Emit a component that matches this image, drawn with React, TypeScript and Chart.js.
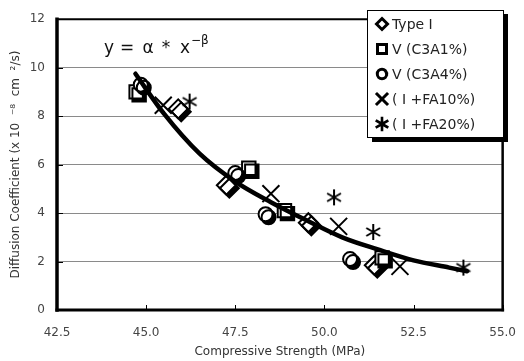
import { useEffect, useRef } from "react";
import { Chart, registerables } from "chart.js";
Chart.register(...registerables);

const typeIX = [45.9, 47.25, 49.55, 51.4];
const typeIY = [8.3, 5.15, 3.6, 1.85];
const c3a1X = [44.72, 47.88, 48.88, 51.62];
const c3a1Y = [9.0, 5.85, 4.1, 2.15];
const c3a4X = [44.85, 47.5, 48.35, 50.72];
const c3a4Y = [9.3, 5.65, 3.95, 2.1];
const fa10X = [45.48, 48.5, 50.4, 52.12];
const fa10Y = [8.45, 4.8, 3.45, 1.8];
const fa20X = [46.22, 50.27, 51.37, 53.9];
const fa20Y = [8.6, 4.65, 3.22, 1.75];
const fitX = [44.7, 45.5, 46.5, 47.5, 48.5, 49.5, 50.5, 51.5, 52.5, 53.5, 54.0];
const fitY = [9.75, 8.1, 6.45, 5.3, 4.45, 3.7, 3.0, 2.5, 2.05, 1.75, 1.6];
const xTicks = [42.5, 45.0, 47.5, 50.0, 52.5, 55.0];
const yTicks = [0, 2, 4, 6, 8, 10, 12];
const seriesLabels = ["Type I", "V (C3A1%)", "V (C3A4%)", "( I +FA10%)", "( I +FA20%)"];
const legendStyles = ["diamond", "square", "circle", "cross", "asterisk"];

const FONT = "'DejaVu Sans', sans-serif";

const zip = (xs: number[], ys: number[]) => xs.map((x, i) => ({ x, y: ys[i] }));

function drawAsterisk(ctx: CanvasRenderingContext2D, cx: number, cy: number, r: number) {
  ctx.beginPath();
  for (const a of [90, 30, 150]) {
    const rad = (a * Math.PI) / 180;
    const dx = Math.cos(rad) * r;
    const dy = Math.sin(rad) * r;
    ctx.moveTo(cx - dx, cy - dy);
    ctx.lineTo(cx + dx, cy + dy);
  }
  ctx.stroke();
}

function makeAsteriskImage(size: number, lw: number) {
  const c = document.createElement("canvas");
  c.width = size;
  c.height = size;
  const ctx = c.getContext("2d")!;
  ctx.strokeStyle = "#000";
  ctx.lineWidth = lw;
  drawAsterisk(ctx, size / 2, size / 2, size / 2 - 1);
  return c;
}

function drawSymbol(ctx: CanvasRenderingContext2D, kind: string, x: number, y: number) {
  ctx.save();
  ctx.strokeStyle = "#000";
  ctx.fillStyle = "#fff";
  ctx.lineWidth = 3;
  ctx.beginPath();
  if (kind === "diamond") {
    const r = 5.5;
    ctx.moveTo(x, y - r);
    ctx.lineTo(x + r, y);
    ctx.lineTo(x, y + r);
    ctx.lineTo(x - r, y);
    ctx.closePath();
    ctx.fill();
    ctx.stroke();
  } else if (kind === "square") {
    ctx.rect(x - 4.5, y - 4.5, 9, 9);
    ctx.fill();
    ctx.stroke();
  } else if (kind === "circle") {
    ctx.arc(x, y, 4.7, 0, Math.PI * 2);
    ctx.fill();
    ctx.stroke();
  } else if (kind === "cross") {
    const r = 5;
    ctx.moveTo(x - r, y - r);
    ctx.lineTo(x + r, y + r);
    ctx.moveTo(x + r, y - r);
    ctx.lineTo(x - r, y + r);
    ctx.stroke();
  } else {
    ctx.lineWidth = 2.6;
    drawAsterisk(ctx, x, y, 6);
  }
  ctx.restore();
}

const shadowPlugin = {
  id: "markerShadow",
  beforeDatasetDraw(chart: any, args: any) {
    const ds = chart.data.datasets[args.index];
    if (ds.shadow) {
      const ctx = chart.ctx;
      ctx.save();
      ctx.shadowColor = "#000";
      ctx.shadowOffsetX = 3;
      ctx.shadowOffsetY = 3;
      ctx.shadowBlur = 0;
    }
  },
  afterDatasetDraw(chart: any, args: any) {
    const ds = chart.data.datasets[args.index];
    if (ds.shadow) chart.ctx.restore();
  },
};

const decorPlugin = {
  id: "decor",
  afterDraw(chart: any) {
    const ctx: CanvasRenderingContext2D = chart.ctx;
    const { left, right, top, bottom } = chart.chartArea;
    const xs = chart.scales.x;
    const ys = chart.scales.y;
    ctx.save();
    // inner tick marks
    ctx.strokeStyle = "#000";
    ctx.lineWidth = 1;
    ctx.beginPath();
    for (const v of xTicks) {
      const px = Math.round(xs.getPixelForValue(v)) + 0.5;
      ctx.moveTo(px, bottom);
      ctx.lineTo(px, bottom - 5);
    }
    for (const v of yTicks) {
      const py = Math.round(ys.getPixelForValue(v)) + 0.5;
      ctx.moveTo(left, py);
      ctx.lineTo(left + 6, py);
    }
    ctx.stroke();
    // frame
    ctx.lineCap = "square";
    ctx.lineWidth = 2;
    ctx.beginPath();
    ctx.moveTo(left, top);
    ctx.lineTo(right, top);
    ctx.stroke();
    ctx.lineWidth = 2.5;
    ctx.beginPath();
    ctx.moveTo(right, top);
    ctx.lineTo(right, bottom);
    ctx.stroke();
    ctx.lineWidth = 3;
    ctx.beginPath();
    ctx.moveTo(left, bottom);
    ctx.lineTo(right, bottom);
    ctx.stroke();
    ctx.lineWidth = 3.5;
    ctx.beginPath();
    ctx.moveTo(left, top);
    ctx.lineTo(left, bottom);
    ctx.stroke();

    // formula
    ctx.fillStyle = "#111";
    ctx.font = `17px ${FONT}`;
    ctx.textAlign = "center";
    ctx.textBaseline = "alphabetic";
    const toks = ["y", "=", "α", "*", "x"];
    const cx = [109, 127, 148, 166, 185];
    toks.forEach((t, i) => ctx.fillText(t, cx[i], 53));
    ctx.font = `12px ${FONT}`;
    ctx.textAlign = "left";
    ctx.fillText("−β", 191, 44);

    // legend
    const bx = 367, by = 10, bw = 136, bh = 127;
    ctx.fillStyle = "#000";
    ctx.fillRect(bx + 5, by + 4, bw, bh + 1);
    ctx.fillStyle = "#fff";
    ctx.fillRect(bx, by, bw, bh);
    ctx.strokeStyle = "#000";
    ctx.lineWidth = 1;
    ctx.strokeRect(bx + 0.5, by + 0.5, bw, bh);
    ctx.font = `14px ${FONT}`;
    ctx.textBaseline = "middle";
    ctx.textAlign = "left";
    seriesLabels.forEach((lab, i) => {
      const yy = 24 + i * 25;
      drawSymbol(ctx, legendStyles[i], 382, yy);
      ctx.fillStyle = "#222";
      ctx.fillText(lab, 392, yy + 1);
    });
    ctx.restore();
  },
};

export default function App() {
  const ref = useRef<HTMLCanvasElement>(null);
  useEffect(() => {
    const star = makeAsteriskImage(18, 2);
    const common = {
      type: "scatter",
      borderColor: "#000",
      backgroundColor: "#fff",
      borderWidth: 2,
      showLine: false,
    };
    const chart = new Chart(ref.current!, {
      type: "scatter",
      data: {
        datasets: [
          {
            ...common,
            label: "fit",
            data: zip(fitX, fitY),
            showLine: true,
            borderWidth: 4.5,
            pointRadius: 0,
            tension: 0.4,
            cubicInterpolationMode: "monotone",
            borderCapStyle: "round",
            order: 0,
          } as any,
          { ...common, label: seriesLabels[0], data: zip(typeIX, typeIY), pointStyle: "rectRot", pointRadius: 9.5, shadow: true, order: 5 } as any,
          { ...common, label: seriesLabels[1], data: zip(c3a1X, c3a1Y), pointStyle: "rect", pointRadius: 9.5, shadow: true, order: 4 } as any,
          { ...common, label: seriesLabels[2], data: zip(c3a4X, c3a4Y), pointStyle: "circle", pointRadius: 7, shadow: true, order: 3 } as any,
          { ...common, label: seriesLabels[3], data: zip(fa10X, fa10Y), pointStyle: "crossRot", pointRadius: 12, borderWidth: 2, order: 2 } as any,
          { ...common, label: seriesLabels[4], data: zip(fa20X, fa20Y), pointStyle: star, pointRadius: 9, order: 1 } as any,
        ],
      },
      options: {
        animation: false,
        responsive: false,
        layout: { padding: { left: 0, right: 18, top: 14, bottom: 0 } },
        plugins: { legend: { display: false }, tooltip: { enabled: false } },
        scales: {
          x: {
            type: "linear",
            min: 42.5,
            max: 55,
            afterBuildTicks: (s: any) => {
              s.ticks = xTicks.map((v) => ({ value: v }));
            },
            afterFit: (s: any) => {
              s.height = 51;
            },
            grid: { display: false },
            border: { display: false },
            ticks: {
              padding: 8,
              color: "#444",
              font: { family: FONT, size: 12 },
              maxRotation: 0,
              callback: (v: any) => Number(v).toFixed(1),
            },
            title: {
              display: true,
              text: "Compressive Strength (MPa)",
              color: "#333",
              font: { family: FONT, size: 12 },
              padding: { top: 0, bottom: 2 },
            },
          },
          y: {
            type: "linear",
            min: 0,
            max: 12,
            afterBuildTicks: (s: any) => {
              s.ticks = yTicks.map((v) => ({ value: v }));
            },
            afterFit: (s: any) => {
              s.width = 57;
            },
            grid: { color: "#8a8a8a", lineWidth: 1, drawTicks: false },
            border: { display: false },
            ticks: {
              padding: 12,
              color: "#444",
              font: { family: FONT, size: 12 },
            },
            title: {
              display: true,
              text: "Diffusion Coefficient (x 10  ⁻⁸  cm  ²/s)",
              color: "#333",
              font: { family: FONT, size: 12 },
              padding: { top: 9, bottom: 0 },
            },
          },
        },
      } as any,
      plugins: [shadowPlugin, decorPlugin],
    });
    return () => chart.destroy();
  }, []);
  return (
    <div style={{ position: "absolute", left: 0, top: 0, width: 524, height: 361, background: "#fff" }}>
      <canvas ref={ref} width={524} height={361} style={{ display: "block" }} />
    </div>
  );
}
